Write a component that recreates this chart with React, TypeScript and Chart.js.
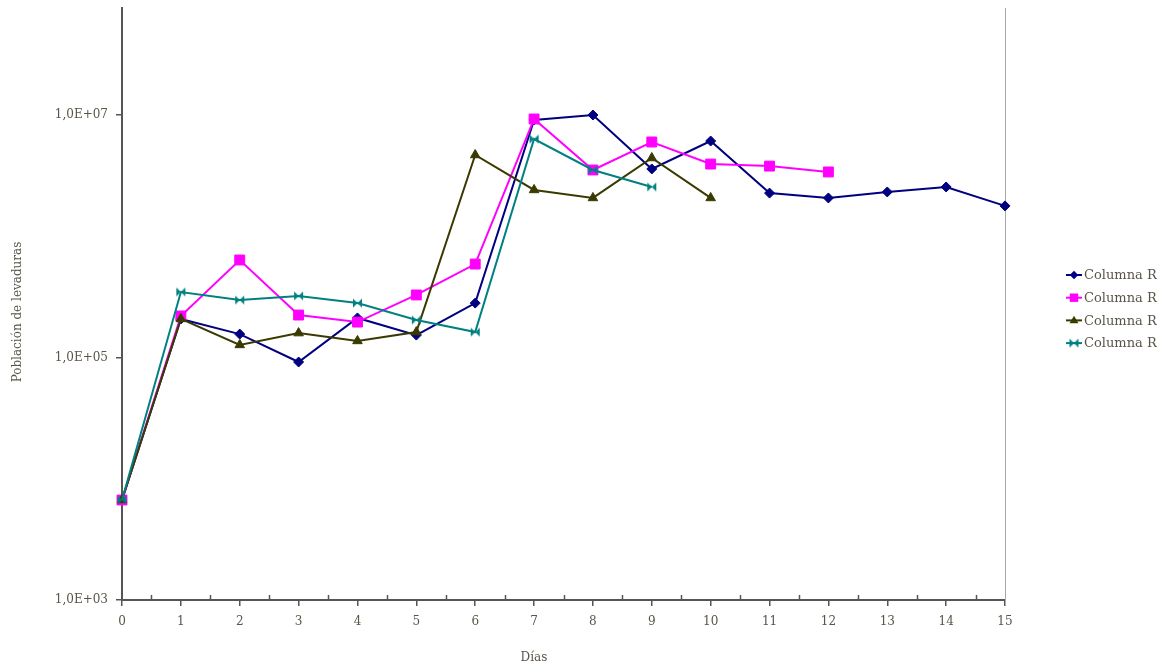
import React, { useEffect, useRef } from "react";
import { Chart, registerables } from "chart.js";

Chart.register(...registerables);

const days = [0, 1, 2, 3, 4, 5, 6, 7, 8, 9, 10, 11, 12, 13, 14, 15];
const serie1 = [6680, 208000, 156000, 91800, 212000, 153000, 281000, 9100000, 10000000, 3590000, 6100000, 2270000, 2070000, 2320000, 2550000, 1780000];
const serie2 = [6680, 220000, 637000, 224000, 196000, 328000, 590000, 9270000, 3520000, 5990000, 3940000, 3790000, 3390000];
const serie3 = [6680, 208000, 127000, 159000, 137000, 162000, 4680000, 2410000, 2070000, 4420000, 2070000];
const serie4 = [6680, 347000, 298000, 322000, 281000, 204000, 162000, 6340000, 3520000, 2550000];
const seriesNames = ["Columna R", "Columna R", "Columna R", "Columna R"];
const yTicks = [1e3, 1e5, 1e7];
const xTitle = "Días";
const yTitle = "Población de levaduras";

const FONT = "'DejaVu Serif', serif";
const TEXT = "#5a5548";
const AXIS = "#555555";

function bowtie(color: string, s: number): HTMLCanvasElement {
  const c = document.createElement("canvas");
  c.width = s;
  c.height = s;
  const g = c.getContext("2d")!;
  g.fillStyle = color;
  g.beginPath();
  g.moveTo(1, 1);
  g.lineTo(1, s - 1);
  g.lineTo(s / 2, s / 2);
  g.closePath();
  g.fill();
  g.beginPath();
  g.moveTo(s - 1, 1);
  g.lineTo(s - 1, s - 1);
  g.lineTo(s / 2, s / 2);
  g.closePath();
  g.fill();
  return c;
}

export default function App() {
  const ref = useRef<HTMLCanvasElement | null>(null);
  useEffect(() => {
    document.body.style.margin = "0";
    const bt = bowtie("#008080", 11);
    const mk = (vals: number[]) => vals.map((v, i) => ({ x: days[i], y: v }));
    const styles = [
      { color: "#000080", pointStyle: "rectRot" as any, radius: 5 },
      { color: "#ff00ff", pointStyle: "rect" as any, radius: 7 },
      { color: "#3a3a00", pointStyle: "triangle" as any, radius: 5.5 },
      { color: "#008080", pointStyle: bt as any, radius: 5 },
    ];
    const all = [serie1, serie2, serie3, serie4];
    const datasets = all.map((s, i) => ({
      label: seriesNames[i],
      data: mk(s),
      order: all.length - 1 - i,
      borderColor: styles[i].color,
      backgroundColor: styles[i].color,
      pointBackgroundColor: styles[i].color,
      pointBorderColor: styles[i].color,
      pointStyle: styles[i].pointStyle,
      pointRadius: styles[i].radius,
      pointBorderWidth: 1,
      borderWidth: 2,
      tension: 0,
      clip: false as any,
    }));

    function drawMarker(ctx: CanvasRenderingContext2D, style: any, x: number, y: number, r: number, color: string) {
      ctx.save();
      ctx.fillStyle = color;
      if (style instanceof HTMLCanvasElement) {
        ctx.drawImage(style, x - style.width / 2, y - style.height / 2);
      } else if (style === "rect") {
        const s = Math.SQRT1_2 * r;
        ctx.fillRect(x - s, y - s, 2 * s, 2 * s);
      } else if (style === "rectRot") {
        ctx.beginPath();
        ctx.moveTo(x, y - r);
        ctx.lineTo(x + r, y);
        ctx.lineTo(x, y + r);
        ctx.lineTo(x - r, y);
        ctx.closePath();
        ctx.fill();
      } else if (style === "triangle") {
        ctx.beginPath();
        ctx.moveTo(x, y - r);
        ctx.lineTo(x + r * 0.95, y + r * 0.6);
        ctx.lineTo(x - r * 0.95, y + r * 0.6);
        ctx.closePath();
        ctx.fill();
      }
      ctx.restore();
    }

    const deco = {
      id: "deco",
      beforeDatasetsDraw(chart: any) {
        const { ctx, chartArea: a, scales } = chart;
        ctx.save();
        ctx.strokeStyle = "#a8a8a8";
        ctx.lineWidth = 1;
        ctx.beginPath();
        ctx.moveTo(a.right + 0.5, a.top);
        ctx.lineTo(a.right + 0.5, a.bottom);
        ctx.stroke();
        ctx.strokeStyle = AXIS;
        ctx.lineWidth = 1.5;
        for (let i = 0; i < days.length - 1; i++) {
          const x = Math.round(scales.x.getPixelForValue(days[i] + 0.5)) + 0.5;
          ctx.beginPath();
          ctx.moveTo(x, a.bottom);
          ctx.lineTo(x, a.bottom - 5);
          ctx.stroke();
        }
        ctx.restore();
      },
      afterDraw(chart: any) {
        const { ctx } = chart;
        ctx.save();
        ctx.fillStyle = TEXT;
        ctx.font = "12px " + FONT;
        ctx.textAlign = "center";
        ctx.textBaseline = "middle";
        ctx.fillText(xTitle, 534, 658);
        ctx.translate(18, 312);
        ctx.rotate(-Math.PI / 2);
        ctx.fillText(yTitle, 0, 0);
        ctx.restore();
        ctx.save();
        const lx = 1066;
        const ly = 275;
        const gap = 22.7;
        ctx.font = "13px " + FONT;
        ctx.textBaseline = "middle";
        ctx.textAlign = "left";
        chart.data.datasets.forEach((ds: any, i: number) => {
          const y = ly + i * gap;
          ctx.strokeStyle = ds.borderColor;
          ctx.lineWidth = 2;
          ctx.beginPath();
          ctx.moveTo(lx, y);
          ctx.lineTo(lx + 16, y);
          ctx.stroke();
          const st = styles[i];
          drawMarker(ctx, st.pointStyle, lx + 8, y, st.radius * 0.85, ds.borderColor);
          ctx.fillStyle = TEXT;
          ctx.fillText(ds.label, lx + 18, y + 1);
        });
        ctx.restore();
      },
    };

    const chart = new Chart(ref.current!, {
      type: "line",
      data: { datasets: datasets as any },
      plugins: [deco],
      options: {
        animation: false,
        responsive: false,
        maintainAspectRatio: false,
        layout: { padding: { top: 8, right: 162, left: 0, bottom: 0 } },
        plugins: { legend: { display: false }, tooltip: { enabled: false }, title: { display: false } },
        scales: {
          x: {
            type: "linear",
            min: 0,
            max: 15,
            ticks: {
              stepSize: 1,
              color: TEXT,
              font: { family: FONT, size: 12 },
              padding: 9,
              maxRotation: 0,
            },
            grid: { display: true, drawOnChartArea: false, drawTicks: true, tickLength: 6, color: AXIS, lineWidth: 1.5 },
            border: { display: true, color: AXIS, width: 2 },
            afterFit(s: any) {
              s.height = 70;
              s.paddingLeft = 0;
              s.paddingRight = 0;
            },
          },
          y: {
            type: "logarithmic",
            min: 1000,
            max: 7.63e7,
            afterBuildTicks(s: any) {
              s.ticks = yTicks.map((v) => ({ value: v }));
            },
            ticks: {
              color: TEXT,
              font: { family: FONT, size: 12 },
              padding: 8,
              callback(v: any) {
                const e = Math.round(Math.log10(Number(v)));
                return "1,0E+" + (e < 10 ? "0" + e : String(e));
              },
            },
            grid: { display: true, drawOnChartArea: false, drawTicks: true, tickLength: 6, color: AXIS, lineWidth: 1.5 },
            border: { display: true, color: AXIS, width: 2 },
            afterFit(s: any) {
              s.width = 122;
              s.paddingTop = 0;
              s.paddingBottom = 0;
            },
          },
        },
      },
    });
    return () => chart.destroy();
  }, []);
  return <canvas ref={ref} width={1167} height={670} style={{ display: "block" }} />;
}
